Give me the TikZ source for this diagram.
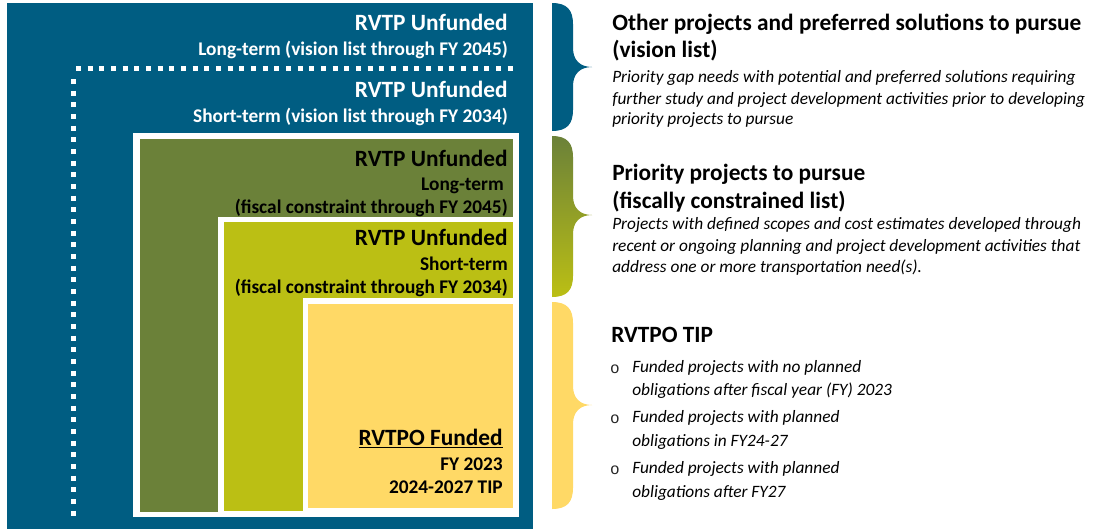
\documentclass[tikz,border=0pt]{standalone}
\usepackage{fontspec}
\setmainfont{Carlito}
\newfontfamily\monofnt{Liberation Mono}
\definecolor{rvblue}{HTML}{005D82}
\definecolor{rvdkgreen}{HTML}{6B8139}
\definecolor{rvltgreen}{HTML}{BBBF14}
\definecolor{rvyellow}{HTML}{FFD966}
\tikzset{
  ttl/.style={font=\fontsize{17.5}{20}\selectfont\bfseries, inner sep=0pt, anchor=base east},
  sub/.style={font=\fontsize{14.5}{17}\selectfont\bfseries, inner sep=0pt, anchor=base east},
  rhead/.style={font=\fontsize{17.5}{20}\selectfont\bfseries, inner sep=0pt, anchor=base west},
  rital/.style={font=\fontsize{13}{15}\selectfont\itshape, inner sep=0pt, anchor=base west},
  bul/.style={font=\fontsize{12}{14}\selectfont\monofnt, text=black!85, inner sep=0pt, anchor=base},
  dots/.style={white, line width=3.75pt, dash pattern=on 3.75pt off 5pt}
}
\newcommand{\rvbrace}[3]{% top, bottom, mid
  (552,#1) .. controls (567,#1) and (573,#1+7) .. (573,#1+21)
  -- (573,#3-19) .. controls (573,#3-7) and (580,#3) .. (592,#3)
  .. controls (580,#3) and (573,#3+7) .. (573,#3+19)
  -- (573,#2-21) .. controls (573,#2-7) and (567,#2) .. (552,#2) -- cycle}
\begin{document}
\begin{tikzpicture}[x=0.75pt,y=-0.75pt]
\useasboundingbox (0,0) rectangle (1093,529);
\fill[white] (0,0) rectangle (1093,529);
% nested boxes
\fill[rvblue] (7,3) rectangle (533,529);
\fill[white] (133,133) rectangle (519,517);
\fill[rvdkgreen] (140,139) rectangle (513,512);
\fill[white] (218,217) rectangle (513,512);
\fill[rvltgreen] (224,222) rectangle (513,511);
\fill[white] (303,298) rectangle (513,511);
\fill[rvyellow] (308,304) rectangle (513,508);
% dotted boundary
\draw[dots] (76,68) -- (517,68);
\draw[dots] (73,79) -- (73,516);
% left texts
\node[ttl, white] (t1) at (508,30) {RVTP Unfunded};
\node[sub, white] (s1) at (508,55) {Long-term (vision list through FY 2045)};
\node[ttl, white] (t2) at (508,97) {RVTP Unfunded};
\node[sub, white] (s2) at (508,122) {Short-term (vision list through FY 2034)};
\node[ttl] (t3) at (508,166) {RVTP Unfunded};
\node[sub] (s3a) at (504,190) {Long-term};
\node[sub] (s3b) at (508,213) {(fiscal constraint through FY 2045)};
\node[ttl] (t4) at (508,245) {RVTP Unfunded};
\node[sub] (s4a) at (508,270) {Short-term};
\node[sub] (s4b) at (508,293) {(fiscal constraint through FY 2034)};
\node[ttl] (t5) at (503,445) {\underline{RVTPO Funded}};
\node[sub] (s5a) at (503,470) {FY 2023};
\node[sub] (s5b) at (503,493) {2024-2027 TIP};
% braces
\fill[rvblue] \rvbrace{3}{131}{67};
\shade[top color=rvdkgreen, bottom color=rvltgreen] \rvbrace{136}{297}{215};
\fill[rvyellow] \rvbrace{302}{509}{405};
% right texts
\node[rhead] (h1) at (612,30) {Other projects and preferred solutions to pursue};
\node[rhead] (h1b) at (612,57) {(vision list)};
\node[rital] (i1) at (612,82) {Priority gap needs with potential and preferred solutions requiring};
\node[rital] (i2) at (612,104) {further study and project development activities prior to developing};
\node[rital] (i3) at (612,124) {priority projects to pursue};
\node[rhead] (h2) at (612,180) {Priority projects to pursue};
\node[rhead] (h2b) at (612,208) {(fiscally constrained list)};
\node[rital] (i4) at (612,229) {Projects with defined scopes and cost estimates developed through};
\node[rital] (i5) at (612,251) {recent or ongoing planning and project development activities that};
\node[rital] (i6) at (612,272) {address one or more transportation need(s).};
\node[rhead] (h3) at (611,342) {RVTPO TIP};
\node[bul] (b1) at (615,373) {o};
\node[rital] (l1) at (632,372) {Funded projects with no planned};
\node[rital] (l2) at (632,395) {obligations after fiscal year (FY) 2023};
\node[bul] (b2) at (615,423) {o};
\node[rital] (l3) at (632,422) {Funded projects with planned};
\node[rital] (l4) at (632,446) {obligations in FY24-27};
\node[bul] (b3) at (615,474) {o};
\node[rital] (l5) at (632,473) {Funded projects with planned};
\node[rital] (l6) at (632,497) {obligations after FY27};
\end{tikzpicture}
\end{document}
